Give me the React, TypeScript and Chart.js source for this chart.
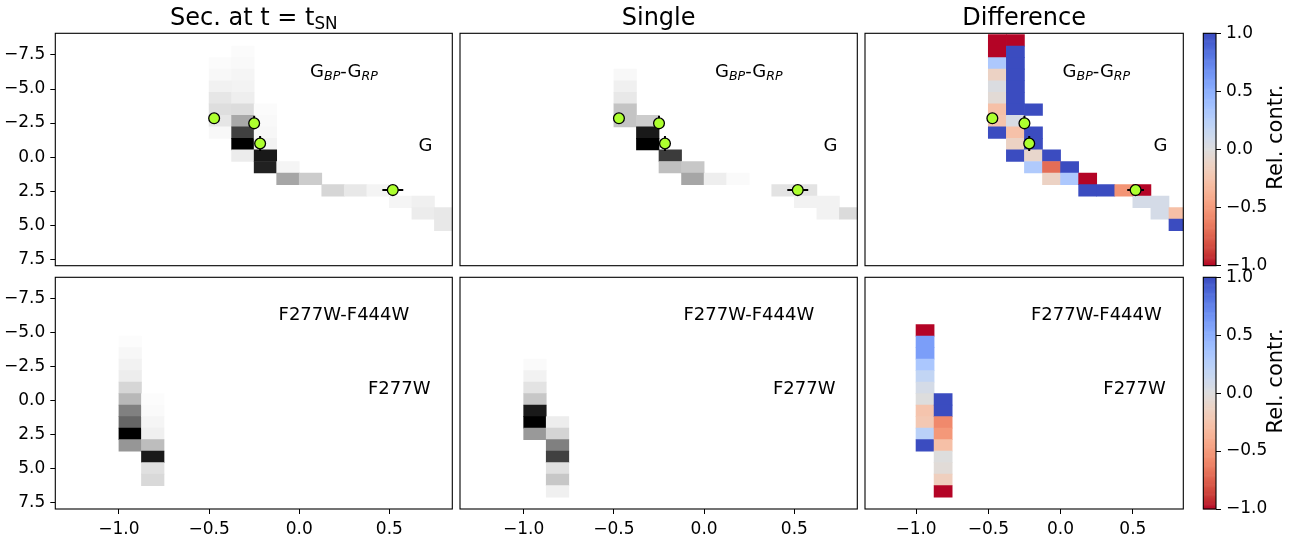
import React, { useEffect, useRef } from 'react';
import { Chart, registerables } from 'chart.js';

Chart.register(...registerables);

// ---------------- data ----------------
const xLimits = [-1.353, 0.849];
const yLimits = [-9.09, 7.97]; // magnitude axis, inverted
const xTickValues = [-1.0, -0.5, 0.0, 0.5];
const yTickValues = [-7.5, -5.0, -2.5, 0.0, 2.5, 5.0, 7.5];
const cbTickValues = [-1.0, -0.5, 0.0, 0.5, 1.0];
const cbLimits = [-1, 1];

// histogram bins: colour bin width, magnitude bin origin and height
const colourBinWidth = 0.125;
const magBinOrigin = -8.15;
const magBinHeight = 0.847;

type Cell = [number, number, number]; // [colour bin, magnitude bin, value]

// Gaia (G_BP-G_RP vs G), secondaries at t = t_SN
const secGaiaCells: Cell[] = [
  [-4, 1, 0.016], [-4, 2, 0.027], [-4, 3, 0.055], [-4, 4, 0.1], [-4, 5, 0.13], [-4, 6, 0.1], [-4, 7, 0.027],
  [-3, 0, 0.016], [-3, 1, 0.025], [-3, 2, 0.04], [-3, 3, 0.047], [-3, 4, 0.067], [-3, 5, 0.137], [-3, 6, 0.34], [-3, 7, 0.75], [-3, 8, 1.0], [-3, 9, 0.074],
  [-2, 5, 0.016], [-2, 6, 0.025], [-2, 7, 0.03], [-2, 8, 0.05], [-2, 9, 0.9], [-2, 10, 0.87],
  [-1, 10, 0.04], [-1, 11, 0.35],
  [0, 11, 0.2],
  [1, 12, 0.16],
  [2, 12, 0.09],
  [3, 12, 0.045],
  [4, 13, 0.04],
  [5, 13, 0.06], [5, 14, 0.075],
  [6, 14, 0.09], [6, 15, 0.09],
];

// Gaia, single stars
const singleGaiaCells: Cell[] = [
  [-4, 2, 0.027], [-4, 3, 0.06], [-4, 4, 0.09], [-4, 5, 0.23], [-4, 6, 0.23],
  [-3, 6, 0.2], [-3, 7, 0.9], [-3, 8, 1.0],
  [-2, 9, 0.77], [-2, 10, 0.25],
  [-1, 10, 0.22], [-1, 11, 0.35],
  [0, 11, 0.065],
  [1, 11, 0.02],
  [3, 12, 0.11],
  [4, 12, 0.11], [4, 13, 0.05],
  [5, 13, 0.05], [5, 14, 0.05],
  [6, 14, 0.14],
];

// Gaia, relative difference
const diffGaiaCells: Cell[] = [
  [-4, -1, -1], [-4, 0, -1], [-4, 1, 0.32], [-4, 2, -0.13], [-4, 3, 0.02], [-4, 4, -0.04], [-4, 5, -0.28], [-4, 6, -0.25], [-4, 7, 1],
  [-3, -1, -1], [-3, 0, 1], [-3, 1, 1], [-3, 2, 1], [-3, 3, 1], [-3, 4, 1], [-3, 5, 1], [-3, 6, 0.05], [-3, 7, -0.27], [-3, 8, -0.13], [-3, 9, 1],
  [-2, 5, 1], [-2, 7, 1], [-2, 8, 1], [-2, 9, -0.09], [-2, 10, 0.3],
  [-1, 9, 1], [-1, 10, -0.7], [-1, 11, -0.13],
  [0, 10, 1], [0, 11, 0.32],
  [1, 11, -1], [1, 12, 1],
  [2, 12, 1],
  [3, 12, -0.53],
  [4, 12, -1], [4, 13, 0.07],
  [5, 13, 0.07], [5, 14, 0.07],
  [6, 14, -0.28], [6, 15, 1],
];

// JWST (F277W-F444W vs F277W), secondaries at t = t_SN
const secJwstCells: Cell[] = [
  [-8, 4, 0.01], [-8, 5, 0.03], [-8, 6, 0.05], [-8, 7, 0.07], [-8, 8, 0.16], [-8, 9, 0.28], [-8, 10, 0.5], [-8, 11, 0.6], [-8, 12, 1.0], [-8, 13, 0.41],
  [-7, 9, 0.01], [-7, 10, 0.02], [-7, 11, 0.04], [-7, 12, 0.06], [-7, 13, 0.26], [-7, 14, 0.9], [-7, 15, 0.12], [-7, 16, 0.15],
];

// JWST, single stars
const singleJwstCells: Cell[] = [
  [-8, 6, 0.02], [-8, 7, 0.05], [-8, 8, 0.11], [-8, 9, 0.22], [-8, 10, 0.9], [-8, 11, 1.0], [-8, 12, 0.4],
  [-7, 11, 0.07], [-7, 12, 0.17], [-7, 13, 0.5], [-7, 14, 0.75], [-7, 15, 0.12], [-7, 16, 0.22], [-7, 17, 0.06],
];

// JWST, relative difference
const diffJwstCells: Cell[] = [
  [-8, 3, -1], [-8, 4, 0.6], [-8, 5, 0.6], [-8, 6, 0.33], [-8, 7, 0.19], [-8, 8, 0.07], [-8, 9, 0.0], [-8, 10, -0.25], [-8, 11, -0.22], [-8, 12, 0.24], [-8, 13, 1],
  [-7, 9, 1], [-7, 10, 1], [-7, 11, -0.58], [-7, 12, -0.51], [-7, 13, -0.28], [-7, 14, 0.0], [-7, 15, -0.03], [-7, 16, -0.16], [-7, 17, -1],
];

// observed stars (Gaia)
const starColour = [-0.472, -0.25, -0.217, 0.519];
const starMag = [-2.85, -2.48, -1.0, 2.42];
const starColourErr = [0, 0, 0, 0.058];
const starMagErrLow = [0, 0.55, 0.55, 0];
const starMagErrHigh = [0, 0.3, 0.55, 0];

// ---------------- styling helpers ----------------
const FONT = '"DejaVu Sans", "Liberation Sans", sans-serif';
const W = 1297;
const H = 539;
const TICK_FONT = 17;

const coolwarmTable: number[][] = [
  [59, 76, 192], [68, 90, 204], [77, 104, 215], [87, 117, 225], [98, 130, 234], [108, 142, 241],
  [119, 154, 247], [130, 165, 251], [141, 176, 254], [152, 185, 255], [163, 194, 255], [174, 201, 253],
  [184, 208, 249], [194, 213, 244], [204, 217, 238], [213, 219, 230], [221, 221, 221], [229, 216, 209],
  [236, 211, 197], [241, 204, 185], [245, 196, 173], [247, 187, 160], [247, 177, 148], [247, 166, 135],
  [244, 154, 123], [241, 141, 111], [236, 127, 99], [229, 112, 88], [222, 96, 77], [213, 80, 66],
  [203, 62, 56], [192, 40, 47], [180, 4, 38],
];

function coolwarm(t: number): string {
  const tt = Math.max(0, Math.min(1, t));
  const pos = tt * (coolwarmTable.length - 1);
  const i = Math.min(coolwarmTable.length - 2, Math.floor(pos));
  const f = pos - i;
  const a = coolwarmTable[i];
  const b = coolwarmTable[i + 1];
  const c = a.map((v, k) => Math.round(v + (b[k] - v) * f));
  return `rgb(${c[0]},${c[1]},${c[2]})`;
}
const diffColour = (v: number) => coolwarm((1 - v) / 2);
const greyColour = (v: number) => {
  const g = Math.round(255 * (1 - Math.max(0, Math.min(1, v))));
  return `rgb(${g},${g},${g})`;
};
const fmtTick = (v: number) => (v < 0 ? '\u2212' : '') + Math.abs(v).toFixed(1);

type Part = { t: string; sub?: boolean; italic?: boolean };

function drawRich(ctx: CanvasRenderingContext2D, parts: Part[], x: number, y: number, align: string, size: number) {
  const segs = parts.map((p) => {
    const fs = p.sub ? size * 0.7 : size;
    const font = `${p.italic ? 'italic ' : ''}${fs}px ${FONT}`;
    ctx.font = font;
    return { t: p.t, font, w: ctx.measureText(p.t).width, dy: p.sub ? size * 0.16 : 0 };
  });
  const total = segs.reduce((s, g) => s + g.w, 0);
  let cx = align === 'center' ? x - total / 2 : align === 'right' ? x - total : x;
  ctx.textAlign = 'left';
  ctx.textBaseline = 'alphabetic';
  segs.forEach((g) => {
    ctx.font = g.font;
    ctx.fillText(g.t, cx, y + g.dy);
    cx += g.w;
  });
}

type Note = { parts: Part[]; fx: number; fy: number; align: string };
type DecorSpec = { title?: Part[]; notes?: Note[]; colourbar?: boolean; cbLabel?: string };

function decorPlugin(spec: DecorSpec) {
  return {
    id: 'decor',
    beforeDatasetsDraw(chart: any) {
      if (!spec.colourbar) return;
      const { ctx, chartArea: a } = chart;
      const ys = chart.scales.y;
      const n = 256;
      ctx.save();
      for (let i = 0; i < n; i++) {
        const v0 = cbLimits[0] + ((cbLimits[1] - cbLimits[0]) * i) / n;
        const v1 = cbLimits[0] + ((cbLimits[1] - cbLimits[0]) * (i + 1)) / n;
        const p0 = ys.getPixelForValue(v0);
        const p1 = ys.getPixelForValue(v1);
        ctx.fillStyle = diffColour((v0 + v1) / 2);
        ctx.fillRect(a.left, Math.min(p0, p1) - 0.3, a.right - a.left, Math.abs(p1 - p0) + 0.6);
      }
      ctx.restore();
    },
    afterDraw(chart: any) {
      const { ctx, chartArea: a } = chart;
      ctx.save();
      ctx.strokeStyle = '#000';
      ctx.lineWidth = 1.1;
      ctx.strokeRect(a.left, a.top, a.right - a.left, a.bottom - a.top);
      ctx.fillStyle = '#000';
      if (spec.title) drawRich(ctx, spec.title, (a.left + a.right) / 2, a.top - 8.5, 'center', 24);
      (spec.notes || []).forEach((nt) =>
        drawRich(ctx, nt.parts, a.left + nt.fx * (a.right - a.left), a.top + nt.fy * (a.bottom - a.top), nt.align, 18)
      );
      if (spec.cbLabel) {
        ctx.translate(a.right + 60.5, a.top + 0.447 * (a.bottom - a.top));
        ctx.rotate(-Math.PI / 2);
        ctx.font = `21px ${FONT}`;
        ctx.textAlign = 'center';
        ctx.textBaseline = 'middle';
        ctx.fillText(spec.cbLabel, 0, 0);
      }
      ctx.restore();
    },
  };
}

type Area = { l: number; t: number; r: number; b: number };
type PanelSpec = {
  area: Area;
  cells: Cell[];
  diverging: boolean;
  showX: boolean;
  showY: boolean;
  stars: boolean;
  decor: DecorSpec;
};

const X_AXIS_H = 30;

function axisCommon() {
  return {
    grid: { display: true, drawOnChartArea: false, drawTicks: true, tickLength: 5, tickWidth: 1, tickColor: '#000', offset: false },
    border: { display: false },
  };
}

function panelConfig(p: PanelSpec): any {
  const datasets: any[] = [];
  if (p.stars) {
    datasets.push({
      type: 'scatter',
      data: starColour.map((x, i) => ({ x, y: starMag[i] })),
      pointRadius: 5.4,
      pointBackgroundColor: '#adff2f',
      pointBorderColor: '#000',
      pointBorderWidth: 1.3,
      order: 0,
    });
    starColour.forEach((x, i) => {
      if (starMagErrLow[i] > 0 || starMagErrHigh[i] > 0) {
        datasets.push({
          type: 'line',
          data: [{ x, y: starMag[i] - starMagErrLow[i] }, { x, y: starMag[i] + starMagErrHigh[i] }],
          borderColor: '#000', borderWidth: 2, pointRadius: 0, fill: false, order: 1,
        });
      }
      if (starColourErr[i] > 0) {
        datasets.push({
          type: 'line',
          data: [{ x: x - starColourErr[i], y: starMag[i] }, { x: x + starColourErr[i], y: starMag[i] }],
          borderColor: '#000', borderWidth: 2, pointRadius: 0, fill: false, order: 1,
        });
      }
    });
  }
  datasets.push({
    type: 'bar',
    data: p.cells.map(([c, r]) => ({
      x: (c + 0.5) * colourBinWidth,
      y: [magBinOrigin + r * magBinHeight, magBinOrigin + (r + 1) * magBinHeight],
    })),
    backgroundColor: p.cells.map(([, , v]) => (p.diverging ? diffColour(v) : greyColour(v))),
    borderWidth: 0,
    barPercentage: 1,
    categoryPercentage: 1,
    order: 2,
  });

  const a = p.area;
  return {
    type: 'bar',
    data: { datasets },
    options: {
      responsive: false,
      animation: false,
      devicePixelRatio: 1,
      events: [],
      layout: {
        padding: {
          left: p.showY ? 0 : a.l,
          top: a.t,
          right: W - a.r,
          bottom: p.showX ? H - a.b - X_AXIS_H : H - a.b,
        },
      },
      plugins: { legend: { display: false }, tooltip: { enabled: false }, title: { display: false } },
      scales: {
        x: {
          type: 'linear',
          min: xLimits[0],
          max: xLimits[1],
          offset: false,
          display: p.showX,
          afterBuildTicks: (s: any) => { s.ticks = xTickValues.map((v) => ({ value: v })); },
          afterFit: (s: any) => { s.height = p.showX ? X_AXIS_H : 0; },
          ...axisCommon(),
          ticks: {
            color: '#000', font: { family: FONT, size: TICK_FONT }, padding: 5, maxRotation: 0, autoSkip: false,
            callback: (v: any) => fmtTick(Number(v)),
          },
        },
        y: {
          type: 'linear',
          reverse: true,
          min: yLimits[0],
          max: yLimits[1],
          display: p.showY,
          afterBuildTicks: (s: any) => { s.ticks = yTickValues.map((v) => ({ value: v })); },
          afterFit: (s: any) => { s.width = p.showY ? a.l : 0; },
          ...axisCommon(),
          ticks: {
            color: '#000', font: { family: FONT, size: TICK_FONT }, padding: 5, autoSkip: false,
            callback: (v: any) => fmtTick(Number(v)),
          },
        },
      },
    },
    plugins: [decorPlugin(p.decor)],
  };
}

function colourbarConfig(area: Area, label: string): any {
  const cbAxisW = 60;
  return {
    type: 'scatter',
    data: { datasets: [] },
    options: {
      responsive: false,
      animation: false,
      devicePixelRatio: 1,
      events: [],
      layout: { padding: { left: area.l, top: area.t, right: W - area.r - cbAxisW, bottom: H - area.b } },
      plugins: { legend: { display: false }, tooltip: { enabled: false } },
      scales: {
        x: { type: 'linear', display: false, min: 0, max: 1, afterFit: (s: any) => { s.height = 0; } },
        y: {
          type: 'linear',
          position: 'right',
          min: cbLimits[0],
          max: cbLimits[1],
          afterBuildTicks: (s: any) => { s.ticks = cbTickValues.map((v) => ({ value: v })); },
          afterFit: (s: any) => { s.width = cbAxisW; },
          ...axisCommon(),
          ticks: { color: '#000', font: { family: FONT, size: TICK_FONT }, padding: 5, callback: (v: any) => fmtTick(Number(v)) },
        },
      },
    },
    plugins: [decorPlugin({ colourbar: true, cbLabel: label })],
  };
}

const gaiaNotes: Note[] = [
  { parts: [{ t: 'G' }, { t: 'BP', sub: true, italic: true }, { t: '-G' }, { t: 'RP', sub: true, italic: true }], fx: 0.727, fy: 0.187, align: 'center' },
  { parts: [{ t: 'G' }], fx: 0.95, fy: 0.505, align: 'right' },
];
const jwstNotes: Note[] = [
  { parts: [{ t: 'F277W-F444W' }], fx: 0.727, fy: 0.184, align: 'center' },
  { parts: [{ t: 'F277W' }], fx: 0.945, fy: 0.504, align: 'right' },
];

const colLeft = [55.3, 460, 865];
const colRight = [452.3, 857.3, 1183.3];
const rowTop = [33.3, 277.3];
const rowBottom = [265.7, 509];

const panels: PanelSpec[] = [
  { area: { l: colLeft[0], r: colRight[0], t: rowTop[0], b: rowBottom[0] }, cells: secGaiaCells, diverging: false, showX: false, showY: true, stars: true,
    decor: { title: [{ t: 'Sec. at t = t' }, { t: 'SN', sub: true }], notes: gaiaNotes } },
  { area: { l: colLeft[1], r: colRight[1], t: rowTop[0], b: rowBottom[0] }, cells: singleGaiaCells, diverging: false, showX: false, showY: false, stars: true,
    decor: { title: [{ t: 'Single' }], notes: gaiaNotes } },
  { area: { l: colLeft[2], r: colRight[2], t: rowTop[0], b: rowBottom[0] }, cells: diffGaiaCells, diverging: true, showX: false, showY: false, stars: true,
    decor: { title: [{ t: 'Difference' }], notes: gaiaNotes } },
  { area: { l: colLeft[0], r: colRight[0], t: rowTop[1], b: rowBottom[1] }, cells: secJwstCells, diverging: false, showX: true, showY: true, stars: false,
    decor: { notes: jwstNotes } },
  { area: { l: colLeft[1], r: colRight[1], t: rowTop[1], b: rowBottom[1] }, cells: singleJwstCells, diverging: false, showX: true, showY: false, stars: false,
    decor: { notes: jwstNotes } },
  { area: { l: colLeft[2], r: colRight[2], t: rowTop[1], b: rowBottom[1] }, cells: diffJwstCells, diverging: true, showX: true, showY: false, stars: false,
    decor: { notes: jwstNotes } },
];

const colourbars: Area[] = [
  { l: 1203.3, r: 1216, t: rowTop[0], b: rowBottom[0] },
  { l: 1203.3, r: 1216, t: rowTop[1], b: rowBottom[1] },
];

export default function App() {
  const refs = useRef<(HTMLCanvasElement | null)[]>([]);

  useEffect(() => {
    const charts: Chart[] = [];
    panels.forEach((p, i) => {
      const cv = refs.current[i];
      if (cv) charts.push(new Chart(cv, panelConfig(p)));
    });
    colourbars.forEach((area, j) => {
      const cv = refs.current[panels.length + j];
      if (cv) charts.push(new Chart(cv, colourbarConfig(area, 'Rel. contr.')));
    });
    return () => charts.forEach((c) => c.destroy());
  }, []);

  const n = panels.length + colourbars.length;
  return (
    <div style={{ position: 'absolute', left: 0, top: 0, width: W, height: H, background: '#fff' }}>
      {Array.from({ length: n }).map((_, i) => (
        <canvas
          key={i}
          ref={(el) => { refs.current[i] = el; }}
          width={W}
          height={H}
          style={{ position: 'absolute', left: 0, top: 0, width: W, height: H }}
        />
      ))}
    </div>
  );
}
